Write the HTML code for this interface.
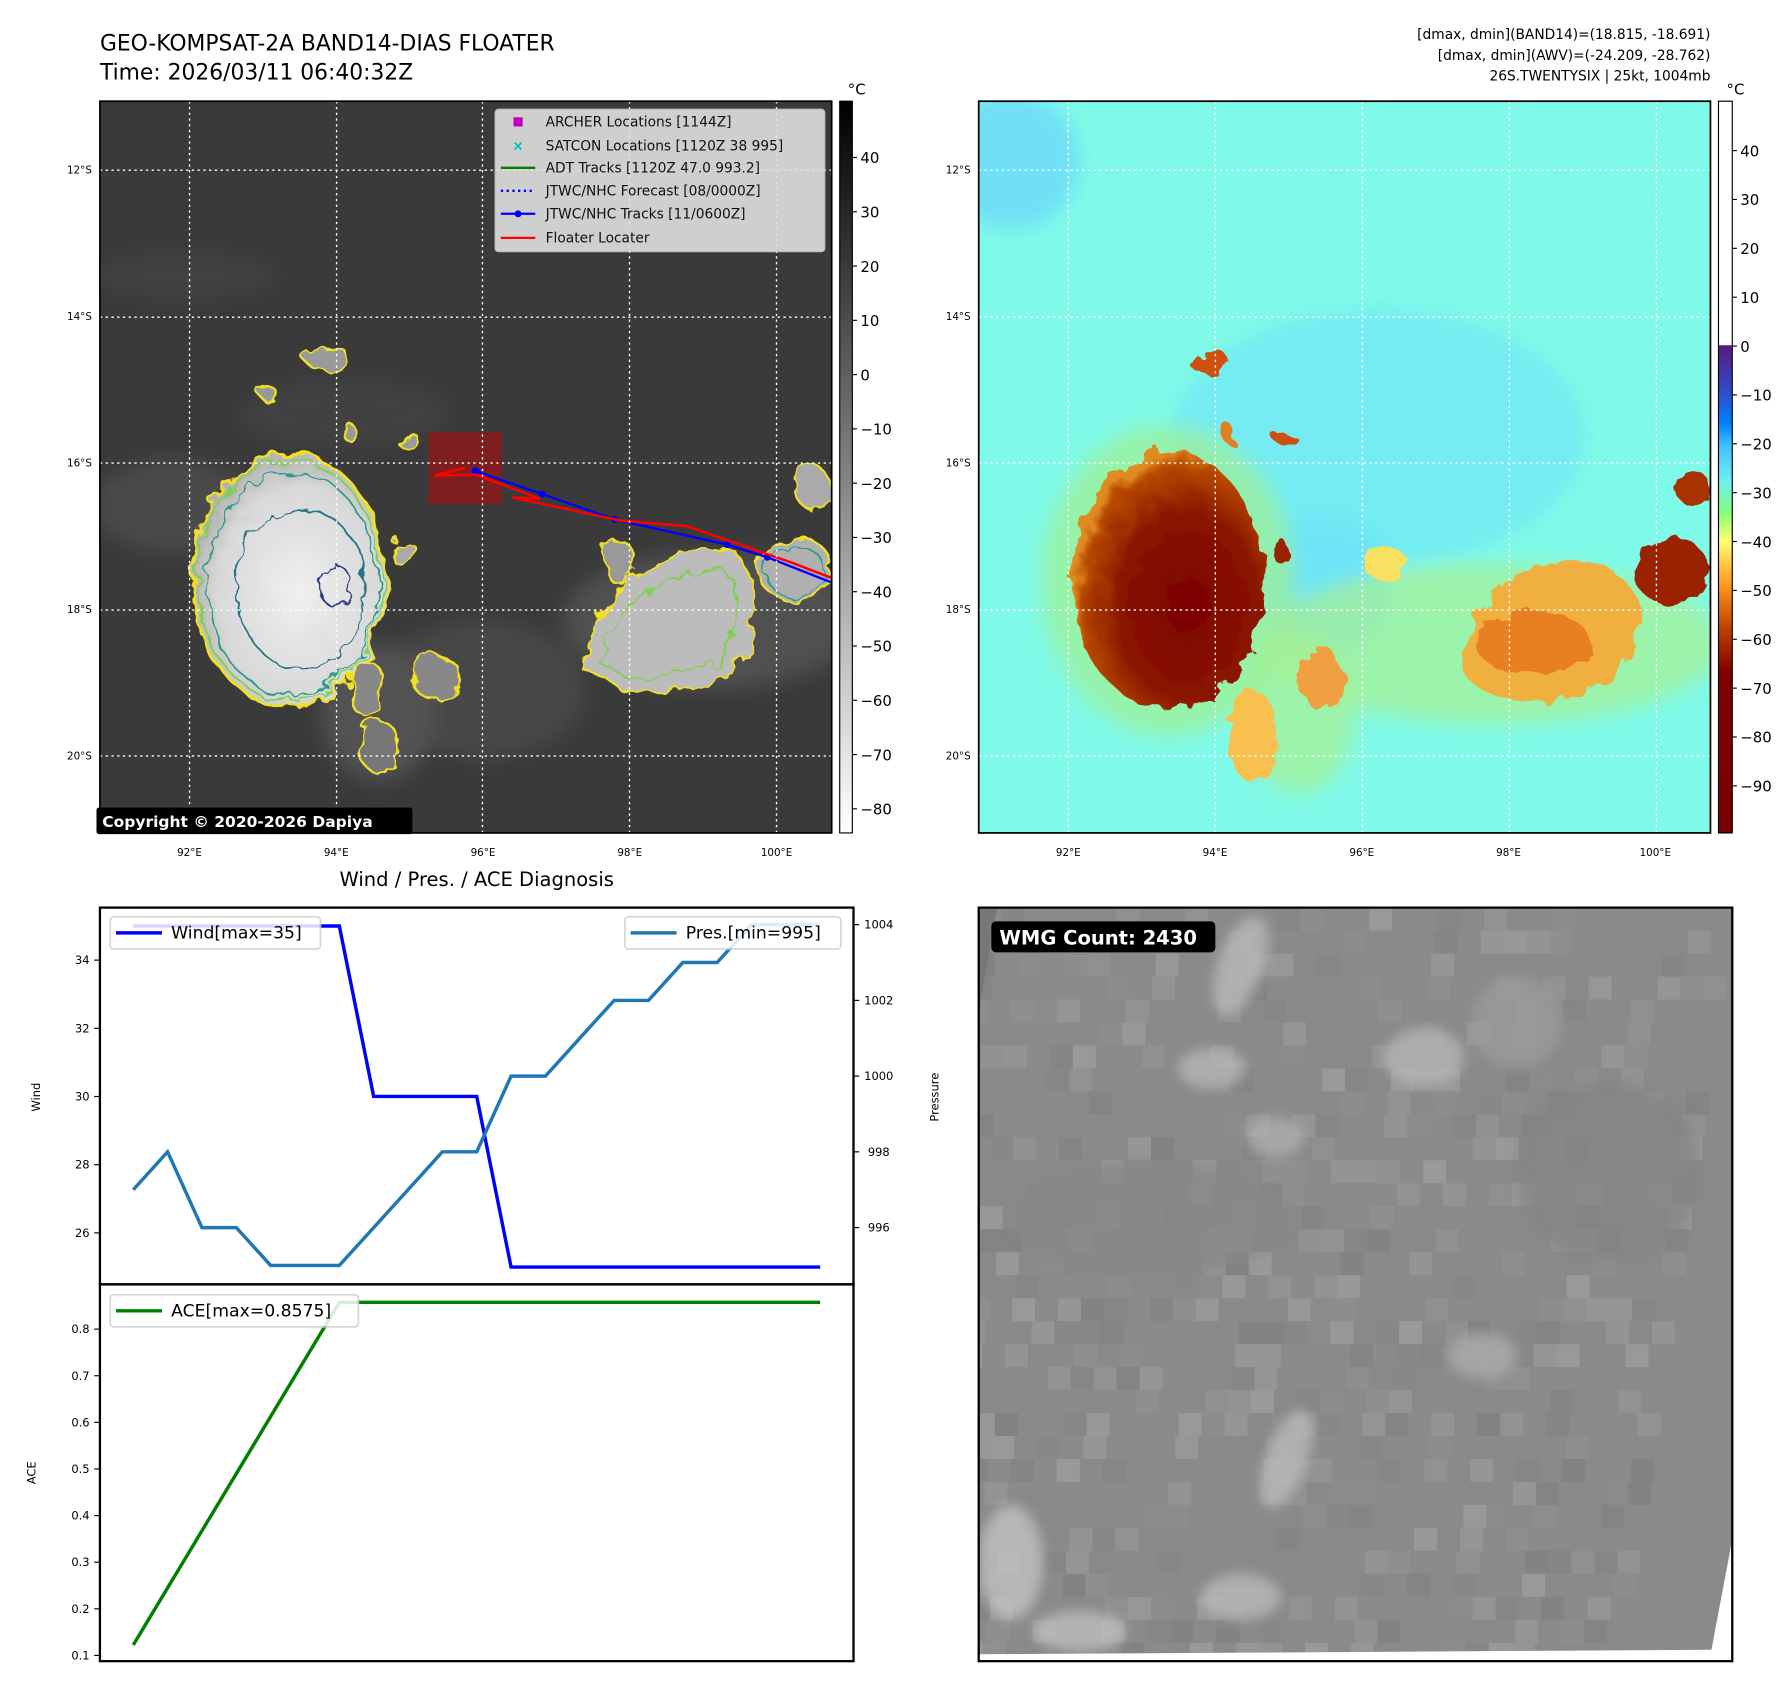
<!DOCTYPE html>
<html><head><meta charset="utf-8"><style>
html,body{margin:0;padding:0;background:#fff;}
svg{display:block;font-family:"DejaVu Sans","Liberation Sans",sans-serif;}
</style></head><body>
<svg id="root" width="1792" height="1690" viewBox="0 0 1560 1471" xmlns="http://www.w3.org/2000/svg">
<defs>
<filter id="rough" x="-20%" y="-20%" width="140%" height="140%"><feTurbulence type="fractalNoise" baseFrequency="0.05" numOctaves="3" seed="4"/><feDisplacementMap in="SourceGraphic" scale="18"/></filter>
<filter id="blur8"><feGaussianBlur stdDeviation="8"/></filter>
<filter id="blur3"><feGaussianBlur stdDeviation="5"/></filter>
<linearGradient id="cbGray" x1="0" y1="0" x2="0" y2="1"><stop offset="0" stop-color="#000"/><stop offset="1" stop-color="#fff"/></linearGradient>
<linearGradient id="cbJet" x1="0" y1="0" x2="0" y2="1">
<stop offset="0" stop-color="#fff"/><stop offset="0.333" stop-color="#fff"/><stop offset="0.334" stop-color="#5a1a7a"/>
<stop offset="0.40" stop-color="#2d4fd0"/><stop offset="0.44" stop-color="#0080ff"/><stop offset="0.47" stop-color="#40c0ff"/>
<stop offset="0.52" stop-color="#70f0f0"/><stop offset="0.56" stop-color="#80ff80"/><stop offset="0.60" stop-color="#ffff70"/>
<stop offset="0.66" stop-color="#ff9a20"/><stop offset="0.72" stop-color="#c04000"/><stop offset="0.78" stop-color="#800000"/><stop offset="1" stop-color="#780000"/></linearGradient>
<radialGradient id="blobGray" cx="0.55" cy="0.55" r="0.6"><stop offset="0" stop-color="#f0f0f0"/><stop offset="0.7" stop-color="#d8d8d8"/><stop offset="1" stop-color="#a8a8a8"/></radialGradient>
<radialGradient id="blobRed" cx="0.6" cy="0.6" r="0.6"><stop offset="0" stop-color="#7a0000"/><stop offset="0.6" stop-color="#8a1500"/><stop offset="0.9" stop-color="#b84a00"/><stop offset="1" stop-color="#e08a20"/></radialGradient>
<clipPath id="clipL"><rect x="87" y="88" width="637" height="637"/></clipPath>
<clipPath id="clipR"><rect x="852" y="88" width="637" height="637"/></clipPath>
<clipPath id="clipB"><rect x="852" y="790" width="656" height="656"/></clipPath>
</defs>

<text x="87" y="44" font-size="19">GEO-KOMPSAT-2A BAND14-DIAS FLOATER</text>
<text x="87" y="69" font-size="19">Time: 2026/03/11 06:40:32Z</text>
<g font-size="12" text-anchor="end">
<text x="1489" y="34">[dmax, dmin](BAND14)=(18.815, -18.691)</text>
<text x="1489" y="52">[dmax, dmin](AWV)=(-24.209, -28.762)</text>
<text x="1489" y="70">26S.TWENTYSIX | 25kt, 1004mb</text>
</g>

<!-- LEFT MAP -->
<g clip-path="url(#clipL)">
<rect x="87" y="88" width="637" height="637" fill="#3a3a3a"/>
<g filter="url(#blur8)" opacity="0.5">
<ellipse cx="150" cy="440" rx="70" ry="40" fill="#5a5a5a"/>
<ellipse cx="420" cy="600" rx="90" ry="60" fill="#555"/>
<ellipse cx="620" cy="540" rx="130" ry="60" fill="#666"/>
<ellipse cx="300" cy="360" rx="90" ry="30" fill="#4a4a4a"/>
<ellipse cx="160" cy="240" rx="80" ry="20" fill="#4a4a4a"/>
<ellipse cx="330" cy="620" rx="50" ry="60" fill="#6a6a6a"/>
</g>
<g filter="url(#rough)">
<ellipse cx="252" cy="505" rx="84" ry="110" fill="url(#blobGray)" stroke="#f0e020" stroke-width="2.5"/>
<ellipse cx="252" cy="505" rx="80" ry="105" fill="none" stroke="#80d050" stroke-width="1.5"/>
<ellipse cx="254" cy="508" rx="74" ry="98" fill="none" stroke="#2a9a88" stroke-width="1.5"/>
<ellipse cx="262" cy="512" rx="56" ry="70" fill="none" stroke="#207080" stroke-width="1.5"/>
<ellipse cx="292" cy="510" rx="14" ry="18" fill="none" stroke="#2a3a80" stroke-width="1.5"/>
<path d="M505 580 Q520 520 560 500 Q600 470 640 480 Q665 520 650 570 Q610 610 540 600 Z" fill="#bcbcbc" stroke="#f0e020" stroke-width="2"/>
<path d="M520 575 Q540 525 570 510 Q610 490 635 500 Q650 540 630 570 Q600 595 545 590 Z" fill="none" stroke="#80d050" stroke-width="1.5"/>
<ellipse cx="692" cy="495" rx="32" ry="28" fill="#b0b0b0" stroke="#f0e020" stroke-width="2"/>
<ellipse cx="692" cy="497" rx="26" ry="22" fill="none" stroke="#2a9a88" stroke-width="1.5"/>
<ellipse cx="286" cy="313" rx="20" ry="9" fill="#9a9a9a" stroke="#f0e020" stroke-width="2"/>
<ellipse cx="356" cy="384" rx="10" ry="6" fill="#999" stroke="#f0e020" stroke-width="2"/>
<ellipse cx="306" cy="378" rx="6" ry="7" fill="#999" stroke="#f0e020" stroke-width="2"/>
<ellipse cx="232" cy="341" rx="8" ry="5" fill="#999" stroke="#f0e020" stroke-width="2"/>
<ellipse cx="708" cy="425" rx="16" ry="18" fill="#aaa" stroke="#f0e020" stroke-width="2"/>
<ellipse cx="352" cy="482" rx="10" ry="12" fill="#aaa" stroke="#f0e020" stroke-width="2"/>
<ellipse cx="380" cy="590" rx="22" ry="18" fill="#888" stroke="#f0e020" stroke-width="2"/>
<ellipse cx="330" cy="650" rx="18" ry="22" fill="#777" stroke="#f0e020" stroke-width="2"/>
<ellipse cx="320" cy="600" rx="14" ry="25" fill="#888" stroke="#f0e020" stroke-width="2"/>
<ellipse cx="540" cy="490" rx="14" ry="18" fill="#999" stroke="#f0e020" stroke-width="2"/>
</g>
<rect x="373" y="376" width="64" height="63" fill="#8b1a1a" opacity="0.85"/>
<polyline points="414,410 472,430 535,452 633,474 668,485 724,507" fill="none" stroke="#0000ff" stroke-width="2"/>
<g fill="#0000ff"><circle cx="414" cy="410" r="3.5"/><circle cx="472" cy="430" r="3"/><circle cx="535" cy="452" r="3"/><circle cx="633" cy="474" r="3"/><circle cx="668" cy="485" r="3"/></g>
<polyline points="405,407 378,414 414,413 470,434 446,433 540,453 598,458 690,490 724,503" fill="none" stroke="#ff0000" stroke-width="2.2"/>
<g stroke="#fff" stroke-width="1.2" stroke-dasharray="2,3">
<line x1="87" y1="148" x2="724" y2="148"/><line x1="87" y1="276" x2="724" y2="276"/><line x1="87" y1="403" x2="724" y2="403"/><line x1="87" y1="531" x2="724" y2="531"/><line x1="87" y1="658" x2="724" y2="658"/>
<line x1="165" y1="88" x2="165" y2="725"/><line x1="293" y1="88" x2="293" y2="725"/><line x1="420" y1="88" x2="420" y2="725"/><line x1="548" y1="88" x2="548" y2="725"/><line x1="676" y1="88" x2="676" y2="725"/>
</g>
<g>
<rect x="431" y="95" width="287" height="124" rx="3" fill="#e0e0e0" opacity="0.9" stroke="#ccc"/>
<rect x="447" y="102" width="8" height="8" fill="#c000c0"/>
<text x="451" y="131" font-size="12" fill="#00c0c0" text-anchor="middle" font-weight="bold">×</text>
<line x1="436" y1="146" x2="466" y2="146" stroke="#008000" stroke-width="2"/>
<line x1="436" y1="166" x2="466" y2="166" stroke="#0000ff" stroke-width="2" stroke-dasharray="2,3"/>
<line x1="436" y1="186" x2="466" y2="186" stroke="#0000ff" stroke-width="2"/><circle cx="451" cy="186" r="3" fill="#0000ff"/>
<line x1="436" y1="207" x2="466" y2="207" stroke="#ff0000" stroke-width="2"/>
<g font-size="12" fill="#111">
<text x="475" y="110">ARCHER Locations [1144Z]</text>
<text x="475" y="131">SATCON Locations [1120Z 38 995]</text>
<text x="475" y="150">ADT Tracks [1120Z 47.0 993.2]</text>
<text x="475" y="170">JTWC/NHC Forecast [08/0000Z]</text>
<text x="475" y="190">JTWC/NHC Tracks [11/0600Z]</text>
<text x="475" y="211">Floater Locater</text>
</g></g>
</g>
<rect x="87" y="88" width="637" height="637" fill="none" stroke="#000" stroke-width="1.5"/>
<rect x="84" y="703" width="275" height="23" rx="2" fill="#000"/>
<text x="89" y="720" font-size="13.5" font-weight="bold" fill="#fff">Copyright © 2020-2026 Dapiya</text>
<g>
<rect x="731" y="88" width="11" height="637" fill="url(#cbGray)" stroke="#000" stroke-width="1"/>
<text x="738" y="82" font-size="13">°C</text>
<g font-size="13" id="cbLticks"></g>
</g>

<!-- RIGHT MAP -->
<g clip-path="url(#clipR)">
<rect x="852" y="88" width="637" height="637" fill="#80fae8"/>
<g filter="url(#blur8)">
<ellipse cx="1200" cy="380" rx="180" ry="110" fill="#70e8f4" opacity="0.8"/>
<ellipse cx="1150" cy="510" rx="60" ry="60" fill="#6ee4f6"/>
<ellipse cx="880" cy="140" rx="60" ry="60" fill="#70e0f6"/>
<ellipse cx="1300" cy="560" rx="200" ry="70" fill="#a8f090" opacity="0.7"/>
<ellipse cx="1130" cy="620" rx="50" ry="70" fill="#a8f090" opacity="0.7"/>
<ellipse cx="1017" cy="505" rx="110" ry="135" fill="#a0f090" opacity="0.7"/>
</g>
<g filter="url(#rough)">
<ellipse cx="1017" cy="505" rx="84" ry="112" fill="url(#blobRed)"/>
<path d="M1270 580 Q1290 500 1350 490 Q1410 480 1430 530 Q1420 600 1350 610 Q1290 615 1270 580 Z" fill="#f0b040"/>
<ellipse cx="1335" cy="560" rx="50" ry="28" fill="#e88020"/>
<ellipse cx="1455" cy="497" rx="32" ry="30" fill="#9a2000"/>
<ellipse cx="1474" cy="425" rx="16" ry="14" fill="#a83000"/>
<ellipse cx="1053" cy="315" rx="18" ry="10" fill="#d05010"/>
<ellipse cx="1120" cy="383" rx="10" ry="6" fill="#d05010"/>
<ellipse cx="1070" cy="378" rx="6" ry="8" fill="#e08020"/>
<ellipse cx="1115" cy="480" rx="8" ry="10" fill="#9a2000"/>
<ellipse cx="1090" cy="640" rx="22" ry="40" fill="#f8c050"/>
<ellipse cx="1150" cy="590" rx="18" ry="28" fill="#f0a040"/>
<ellipse cx="1205" cy="490" rx="20" ry="14" fill="#f8e060"/>
</g>
<g stroke="#fff" stroke-width="1.2" stroke-dasharray="2,3">
<line x1="852" y1="148" x2="1489" y2="148"/><line x1="852" y1="276" x2="1489" y2="276"/><line x1="852" y1="403" x2="1489" y2="403"/><line x1="852" y1="531" x2="1489" y2="531"/><line x1="852" y1="658" x2="1489" y2="658"/>
<line x1="930" y1="88" x2="930" y2="725"/><line x1="1058" y1="88" x2="1058" y2="725"/><line x1="1186" y1="88" x2="1186" y2="725"/><line x1="1314" y1="88" x2="1314" y2="725"/><line x1="1442" y1="88" x2="1442" y2="725"/>
</g>
</g>
<rect x="852" y="88" width="637" height="637" fill="none" stroke="#000" stroke-width="1.5"/>
<g>
<rect x="1496" y="88" width="12" height="637" fill="url(#cbJet)" stroke="#000" stroke-width="1"/>
<text x="1503" y="82" font-size="13">°C</text>
<g font-size="13" id="cbRticks"></g>
</g>
<g font-size="9" text-anchor="end" id="latlabels"></g>
<g font-size="9" text-anchor="middle" id="lonlabels"></g>

<!-- BOTTOM LEFT CHART -->
<text x="415" y="771" font-size="17" text-anchor="middle">Wind / Pres. / ACE Diagnosis</text>
<g id="chart"></g>

<!-- BOTTOM RIGHT -->
<g clip-path="url(#clipB)">
<rect x="852" y="790" width="656" height="656" fill="#8a8a8a"/>
<g id="noise"></g>
<g filter="url(#blur3)" opacity="0.75">
<ellipse cx="1080" cy="840" rx="20" ry="45" fill="#bcbcbc" transform="rotate(20 1080 840)"/>
<ellipse cx="1055" cy="930" rx="30" ry="18" fill="#b8b8b8"/>
<ellipse cx="1240" cy="920" rx="35" ry="25" fill="#b8b8b8"/>
<ellipse cx="1110" cy="990" rx="25" ry="18" fill="#b0b0b0"/>
<ellipse cx="1120" cy="1270" rx="18" ry="45" fill="#bcbcbc" transform="rotate(20 1120 1270)"/>
<ellipse cx="1080" cy="1390" rx="35" ry="20" fill="#bcbcbc"/>
<ellipse cx="880" cy="1360" rx="28" ry="50" fill="#c4c4c4"/>
<ellipse cx="940" cy="1420" rx="40" ry="18" fill="#c0c0c0"/>
<ellipse cx="1290" cy="1180" rx="30" ry="20" fill="#aeaeae"/>
<ellipse cx="1320" cy="890" rx="40" ry="40" fill="#9c9c9c"/>
<ellipse cx="1400" cy="1020" rx="80" ry="80" fill="#848484"/>
<ellipse cx="1000" cy="1060" rx="120" ry="50" fill="#878787"/>
</g>
<polygon points="852,790 868,790 852,880" fill="#777"/>
<polygon points="1508,1340 1508,1446 1488,1446" fill="#fff"/>
<polygon points="852,1446 1508,1446 1508,1436 852,1440" fill="#fff"/>
</g>
<rect x="852" y="790" width="656" height="656" fill="none" stroke="#000" stroke-width="2"/>
<rect x="863" y="802" width="195" height="27" rx="4" fill="#000"/>
<text x="870" y="822" font-size="17" font-weight="bold" fill="#fff">WMG Count: 2430</text>
</svg>
<script>
const windValues=[35,35,35,35,35,35,35,30,30,30,30,25,25,25,25,25,25,25,25,25,25];
const presValues=[997,998,996,996,995,995,995,996,997,998,998,1000,1000,1001,1002,1002,1003,1003,1004,1004,1004];
const aceValues=[0.1225,0.245,0.3675,0.49,0.6125,0.735,0.8575,0.8575,0.8575,0.8575,0.8575,0.8575,0.8575,0.8575,0.8575,0.8575,0.8575,0.8575,0.8575,0.8575,0.8575];
const windTicks=[26,28,30,32,34];
const presTicks=[996,998,1000,1002,1004];
const aceTicks=[0.1,0.2,0.3,0.4,0.5,0.6,0.7,0.8];
const cbLTicks=[40,30,20,10,0,-10,-20,-30,-40,-50,-60,-70,-80];
const cbRTicks=[40,30,20,10,0,-10,-20,-30,-40,-50,-60,-70,-80,-90];
const latLabels=["12°S","14°S","16°S","18°S","20°S"];
const lonLabels=["92°E","94°E","96°E","98°E","100°E"];
const NS='http://www.w3.org/2000/svg';
function mk(p,t,a,txt){const e=document.createElementNS(NS,t);for(const k in a)e.setAttribute(k,a[k]);if(txt!==undefined)e.textContent=txt;p.appendChild(e);return e;}
const L=87,R=743,T1=790,B1=1118,T2=1118,B2=1446;
const xS=i=>116+i*(714-116)/(windValues.length-1);
const yW=v=>T1+(35.54-v)/(35.54-24.49)*(B1-T1);
const yP=v=>T1+(1004.45-v)/(1004.45-994.5)*(B1-T1);
const yA=v=>T2+(0.896-v)/(0.896-0.0877)*(B2-T2);
const ch=document.getElementById('chart');
function pts(arr,yf){return arr.map((v,i)=>xS(i).toFixed(1)+','+yf(v).toFixed(1)).join(' ');}
let l=mk(ch,'polyline',{points:pts(windValues,yW),fill:'none',stroke:'#0000ff','stroke-width':3});


l=mk(ch,'polyline',{points:pts(presValues,yP),fill:'none',stroke:'#1f77b4','stroke-width':3});


l=mk(ch,'polyline',{points:pts(aceValues,yA),fill:'none',stroke:'#008000','stroke-width':3});


mk(ch,'rect',{x:L,y:T1,width:R-L,height:B1-T1,fill:'none',stroke:'#000','stroke-width':2});
mk(ch,'rect',{x:L,y:T2,width:R-L,height:B2-T2,fill:'none',stroke:'#000','stroke-width':2});
windTicks.forEach(v=>{const y=yW(v);mk(ch,'line',{x1:L-5,x2:L,y1:y,y2:y,stroke:'#000'});const t=mk(ch,'text',{x:L-9,y:y+3.5,'font-size':10,'text-anchor':'end'},v);});
presTicks.forEach(v=>{const y=yP(v);mk(ch,'line',{x1:R,x2:R+5,y1:y,y2:y,stroke:'#000'});const t=mk(ch,'text',{x:R+22,y:y+3.5,'font-size':10,'text-anchor':'middle'},v);});
aceTicks.forEach(v=>{const y=yA(v);mk(ch,'line',{x1:L-5,x2:L,y1:y,y2:y,stroke:'#000'});const t=mk(ch,'text',{x:L-9,y:y+3.5,'font-size':10,'text-anchor':'end'},v.toFixed(1));});
let t=mk(ch,'text',{x:35,y:955,'font-size':10,'text-anchor':'middle',transform:'rotate(-90 35 955)'},'Wind');

t=mk(ch,'text',{x:817,y:955,'font-size':10,'text-anchor':'middle',transform:'rotate(-90 817 955)'},'Pressure');

t=mk(ch,'text',{x:31,y:1282,'font-size':10,'text-anchor':'middle',transform:'rotate(-90 31 1282)'},'ACE');

function legend(x,y,w,color,label,name){const g=mk(ch,'g',{});
mk(g,'rect',{x:x,y:y,width:w,height:28,rx:3,fill:'#fff',opacity:0.85,stroke:'#d0d0d0','stroke-width':1.5});
mk(g,'line',{x1:x+5,x2:x+45,y1:y+14,y2:y+14,stroke:color,'stroke-width':3});
mk(g,'text',{x:x+53,y:y+19,'font-size':15},label);}
legend(96,798,183,'#0000ff','Wind[max=35]','wind-legend');
legend(544,798,188,'#1f77b4','Pres.[min=995]','pressure-legend');
legend(96,1127,216,'#008000','ACE[max=0.8575]','ace-legend');
const cbl=document.getElementById('cbLticks');
cbLTicks.forEach(v=>{const y=137+(40-v)*4.725;mk(cbl,'line',{x1:742,x2:746,y1:y,y2:y,stroke:'#000'});const e=mk(cbl,'text',{x:749,y:y+5},v<0?'\u2212'+(-v):v);});
const cbr=document.getElementById('cbRticks');
cbRTicks.forEach(v=>{const y=131+(40-v)*4.254;mk(cbr,'line',{x1:1508,x2:1512,y1:y,y2:y,stroke:'#000'});const e=mk(cbr,'text',{x:1515,y:y+5},v<0?'\u2212'+(-v):v);});
const ll=document.getElementById('latlabels');
latLabels.forEach((s,i)=>{const y=148+i*127.5+3;[80,845].forEach(x=>{const e=mk(ll,'text',{x:x,y:y},s);});});
const lo=document.getElementById('lonlabels');
lonLabels.forEach((s,i)=>{const x=165+i*127.75;[0,765].forEach(d=>{const e=mk(lo,'text',{x:x+d,y:745},s);});});
const nz=document.getElementById('noise');let s=7;
function rnd(){s=(s*9301+49297)%233280;return s/233280;}
for(let gy=0;gy<33;gy++)for(let gx=0;gx<33;gx++){const r=rnd();if(r<0.55)continue;const g=Math.round(125+rnd()*40);mk(nz,'rect',{x:852+gx*20-gy*3,y:790+gy*20,width:20,height:20,fill:'rgb('+g+','+g+','+g+')',opacity:0.6});}
</script>
</body></html>
